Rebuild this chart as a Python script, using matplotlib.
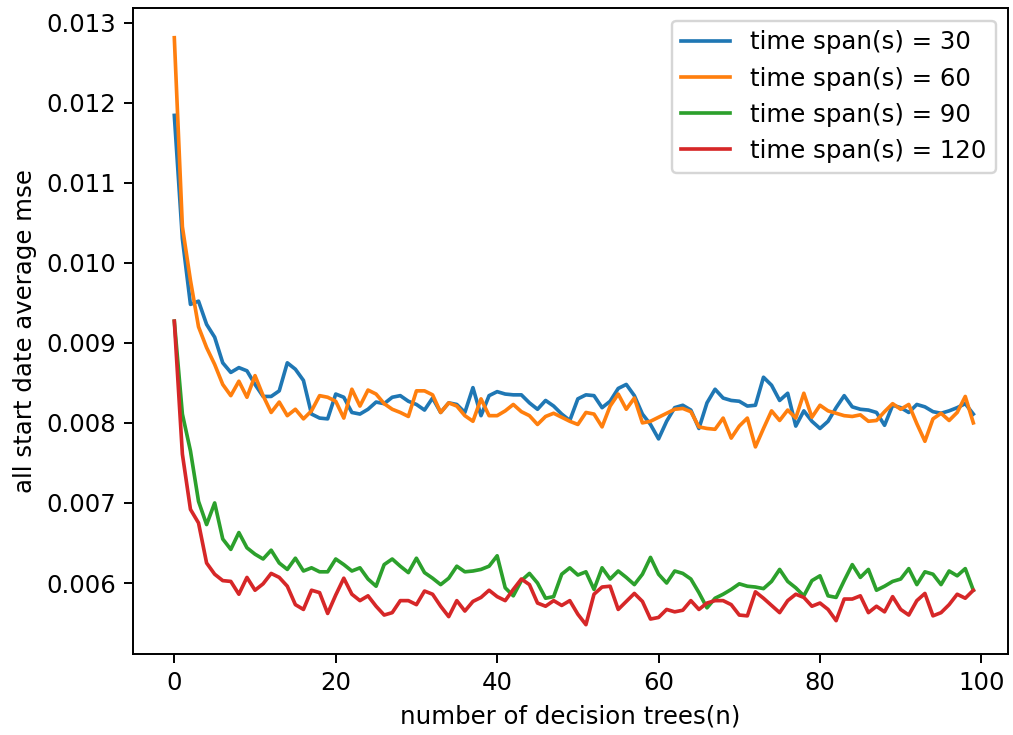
import matplotlib
matplotlib.use("Agg")
import matplotlib.pyplot as plt
import numpy as np

n_trees = list(range(100))

mse_30 = [0.01184, 0.01030, 0.00948, 0.00952, 0.00923, 0.00907, 0.00875, 0.00863, 0.00869, 0.00865,
          0.00848, 0.00833, 0.00833, 0.00840, 0.00875, 0.00867, 0.00853, 0.00811, 0.00806, 0.00805,
          0.00836, 0.00832, 0.00813, 0.00811, 0.00817, 0.00826, 0.00824, 0.00832, 0.00834, 0.00827,
          0.00823, 0.00816, 0.00831, 0.00813, 0.00825, 0.00823, 0.00813, 0.00844, 0.00809, 0.00834,
          0.00839, 0.00836, 0.00835, 0.00835, 0.00825, 0.00817, 0.00828, 0.00821, 0.00811, 0.00803,
          0.00830, 0.00835, 0.00834, 0.00819, 0.00827, 0.00843, 0.00848, 0.00834, 0.00811, 0.00798,
          0.00780, 0.00802, 0.00819, 0.00822, 0.00816, 0.00793, 0.00825, 0.00842, 0.00831, 0.00828,
          0.00827, 0.00821, 0.00822, 0.00857, 0.00847, 0.00828, 0.00837, 0.00796, 0.00815, 0.00802,
          0.00793, 0.00802, 0.00819, 0.00834, 0.00820, 0.00817, 0.00816, 0.00813, 0.00797, 0.00822,
          0.00819, 0.00813, 0.00823, 0.00820, 0.00814, 0.00812, 0.00815, 0.00819, 0.00824, 0.00811]

mse_60 = [0.01281, 0.01045, 0.00978, 0.00920, 0.00894, 0.00873, 0.00848, 0.00834, 0.00852, 0.00832,
          0.00859, 0.00834, 0.00813, 0.00826, 0.00809, 0.00817, 0.00805, 0.00815, 0.00834, 0.00832,
          0.00827, 0.00806, 0.00842, 0.00821, 0.00841, 0.00836, 0.00824, 0.00817, 0.00813, 0.00808,
          0.00840, 0.00840, 0.00835, 0.00813, 0.00825, 0.00821, 0.00809, 0.00802, 0.00830, 0.00809,
          0.00809, 0.00815, 0.00823, 0.00814, 0.00809, 0.00798, 0.00808, 0.00812, 0.00807, 0.00802,
          0.00798, 0.00813, 0.00811, 0.00795, 0.00821, 0.00836, 0.00817, 0.00831, 0.00800, 0.00802,
          0.00807, 0.00812, 0.00817, 0.00818, 0.00814, 0.00795, 0.00793, 0.00792, 0.00806, 0.00781,
          0.00796, 0.00806, 0.00770, 0.00793, 0.00815, 0.00803, 0.00816, 0.00806, 0.00837, 0.00807,
          0.00822, 0.00815, 0.00812, 0.00809, 0.00808, 0.00810, 0.00802, 0.00803, 0.00814, 0.00824,
          0.00817, 0.00823, 0.00799, 0.00777, 0.00805, 0.00812, 0.00803, 0.00813, 0.00833, 0.00800]

mse_90 = [0.00927, 0.00811, 0.00765, 0.00702, 0.00673, 0.00700, 0.00655, 0.00642, 0.00663, 0.00644,
          0.00636, 0.00630, 0.00641, 0.00625, 0.00617, 0.00631, 0.00615, 0.00619, 0.00614, 0.00614,
          0.00630, 0.00623, 0.00615, 0.00619, 0.00605, 0.00596, 0.00623, 0.00630, 0.00621, 0.00613,
          0.00631, 0.00613, 0.00606, 0.00598, 0.00606, 0.00621, 0.00614, 0.00615, 0.00617, 0.00621,
          0.00634, 0.00594, 0.00584, 0.00603, 0.00612, 0.00600, 0.00581, 0.00583, 0.00611, 0.00619,
          0.00610, 0.00614, 0.00592, 0.00619, 0.00605, 0.00615, 0.00607, 0.00598, 0.00611, 0.00632,
          0.00611, 0.00600, 0.00615, 0.00612, 0.00605, 0.00588, 0.00569, 0.00581, 0.00586, 0.00592,
          0.00599, 0.00596, 0.00595, 0.00593, 0.00602, 0.00617, 0.00602, 0.00594, 0.00584, 0.00603,
          0.00609, 0.00584, 0.00582, 0.00603, 0.00623, 0.00607, 0.00617, 0.00591, 0.00596, 0.00602,
          0.00605, 0.00618, 0.00598, 0.00614, 0.00611, 0.00598, 0.00615, 0.00609, 0.00618, 0.00591]

mse_120 = [0.00927, 0.00761, 0.00692, 0.00675, 0.00625, 0.00611, 0.00603, 0.00602, 0.00586, 0.00607,
           0.00591, 0.00599, 0.00612, 0.00607, 0.00596, 0.00573, 0.00567, 0.00591, 0.00588, 0.00562,
           0.00585, 0.00606, 0.00586, 0.00578, 0.00584, 0.00571, 0.00560, 0.00563, 0.00578, 0.00578,
           0.00573, 0.00590, 0.00586, 0.00571, 0.00558, 0.00578, 0.00565, 0.00577, 0.00582, 0.00591,
           0.00583, 0.00578, 0.00592, 0.00605, 0.00598, 0.00575, 0.00571, 0.00578, 0.00572, 0.00578,
           0.00561, 0.00548, 0.00586, 0.00595, 0.00596, 0.00567, 0.00577, 0.00587, 0.00577, 0.00555,
           0.00557, 0.00567, 0.00564, 0.00566, 0.00578, 0.00567, 0.00575, 0.00578, 0.00578, 0.00573,
           0.00560, 0.00559, 0.00589, 0.00581, 0.00572, 0.00563, 0.00578, 0.00586, 0.00582, 0.00571,
           0.00575, 0.00567, 0.00553, 0.00580, 0.00580, 0.00584, 0.00563, 0.00571, 0.00564, 0.00583,
           0.00567, 0.00560, 0.00578, 0.00587, 0.00559, 0.00563, 0.00573, 0.00586, 0.00581, 0.00591]

series = [mse_30, mse_60, mse_90, mse_120]
labels = ["time span(s) = 30", "time span(s) = 60", "time span(s) = 90", "time span(s) = 120"]

DPI = 175.5
fig = plt.figure(figsize=(1013 / DPI, 735 / DPI), dpi=DPI)
ax = fig.add_axes([0.1316, 0.1102, 0.8635, 0.8784])
for vals, lab in zip(series, labels):
    ax.plot(n_trees, vals, label=lab)
ax.set_xlim(-5.08, 103.3)
ax.set_xlabel("number of decision trees(n)")
ax.set_ylabel("all start date average mse")
ax.legend(loc="upper right")
fig.savefig("out.png", dpi=DPI)
